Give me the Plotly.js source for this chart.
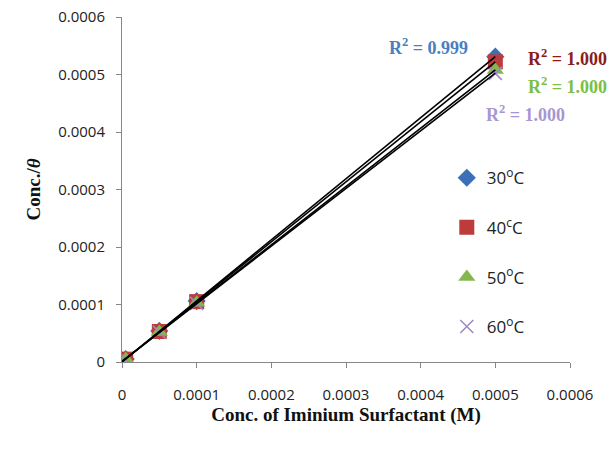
<!DOCTYPE html>
<html><head><meta charset="utf-8">
<script src="https://cdn.plot.ly/plotly-3.0.1.min.js"></script>
<style>html,body{margin:0;padding:0;background:#fff}#chart{width:616px;height:454px}</style>
</head><body><div id="chart"></div>
<script>
const conc = [0.000005, 0.00005, 0.0001, 0.0005];
const y30 = [0.000005, 0.000054, 0.000106, 0.000531];
const y40 = [0.000005, 0.000053, 0.000105, 0.000522];
const y50 = [0.000005, 0.000052, 0.000103, 0.000508];
const y60 = [0.000005, 0.000052, 0.000102, 0.000502];
const seriesNames = ['30<sup>o</sup>C', '40<sup>c</sup>C', '50<sup>o</sup>C', '60<sup>o</sup>C'];
const r2Labels = ['R<sup>2</sup> = 0.999', 'R<sup>2</sup> = 1.000', 'R<sup>2</sup> = 1.000', 'R<sup>2</sup> = 1.000'];
const xTicks = [0, 0.0001, 0.0002, 0.0003, 0.0004, 0.0005, 0.0006];
const xTickText = ['0', '0.0001', '0.0002', '0.0003', '0.0004', '0.0005', '0.0006'];
const yTicks = [0, 0.0001, 0.0002, 0.0003, 0.0004, 0.0005, 0.0006];
const yTickText = ['0', '0.0001', '0.0002', '0.0003', '0.0004', '0.0005', '0.0006'];

const ys = [y30, y40, y50, y60];
const colors = ['#3b6fb8', '#be3b3b', '#84b84e', '#9d88c4'];
const symbols = ['diamond', 'square', 'triangle-up', 'x-thin'];
const sizes = [14, 15, 15, 13];

function fit(x, y) {
  const n = x.length;
  const mx = x.reduce((a, b) => a + b) / n, my = y.reduce((a, b) => a + b) / n;
  let sxy = 0, sxx = 0;
  for (let i = 0; i < n; i++) { sxy += (x[i] - mx) * (y[i] - my); sxx += (x[i] - mx) ** 2; }
  const m = sxy / sxx; return { m, b: my - m * mx };
}

const traces = [];
ys.forEach((y, i) => {
  traces.push({ x: conc, y: y, mode: 'markers', name: seriesNames[i], legendgroup: 'g' + i,
    marker: { color: colors[i], symbol: symbols[i], size: sizes[i], line: { color: colors[i], width: i === 3 ? 1.5 : 0 } } });
});
ys.forEach((y, i) => {
  const f = fit(conc, y);
  const xl = [0, Math.max(...conc)];
  traces.push({ x: xl, y: xl.map(v => f.m * v + f.b), mode: 'lines', line: { color: '#000', width: 1.6 }, showlegend: false, hoverinfo: 'skip' });
});

const annColors = ['#4a7ebf', '#8b1c1c', '#79c044', '#a796d0'];
const annPos = [[0.411, 0.549], [0.597, 0.529], [0.597, 0.481], [0.540, 0.433]];
const annotations = r2Labels.map((t, i) => ({
  x: annPos[i][0] / 1000, y: annPos[i][1] / 1000, xref: 'x', yref: 'y', text: '<b>' + t + '</b>',
  showarrow: false, font: { family: 'Liberation Serif, Times New Roman, serif', size: 18, color: annColors[i] }
}));

const tickFont = { family: 'Open Sans, Liberation Sans, sans-serif', size: 15, color: '#222' };
const layout = {
  width: 616, height: 454,
  margin: { l: 122, r: 46, t: 17, b: 92 },
  paper_bgcolor: '#fff', plot_bgcolor: '#fff',
  showlegend: true,
  legend: { x: 0.725, y: 0.585, xanchor: 'left', yanchor: 'top', traceorder: 'grouped', tracegroupgap: 24.5,
    font: { family: 'Open Sans, Liberation Sans, sans-serif', size: 17, color: '#222' }, bgcolor: 'rgba(0,0,0,0)', itemwidth: 30 },
  xaxis: { range: [0, 0.0006], tickvals: xTicks, ticktext: xTickText, showgrid: false, zeroline: false,
    showline: true, linecolor: '#878787', linewidth: 1, ticks: 'outside', ticklen: 5, tickcolor: '#878787',
    tickfont: tickFont, ticklabelstandoff: 14,
    title: { text: '<b>Conc. of Iminium Surfactant (M)</b>', standoff: 3,
      font: { family: 'Liberation Serif, Times New Roman, serif', size: 19, color: '#111' } } },
  yaxis: { range: [0, 0.0006], tickvals: yTicks, ticktext: yTickText, showgrid: false, zeroline: false,
    showline: true, linecolor: '#878787', linewidth: 1, ticks: 'outside', ticklen: 5, tickcolor: '#878787',
    tickfont: tickFont, ticklabelstandoff: 8,
    title: { text: '<b>Conc./<i>θ</i></b>', standoff: 12,
      font: { family: 'Liberation Serif, Times New Roman, serif', size: 19, color: '#111' } } },
  annotations: annotations
};
Plotly.newPlot('chart', traces, layout, { displayModeBar: false, staticPlot: true });
</script></body></html>
